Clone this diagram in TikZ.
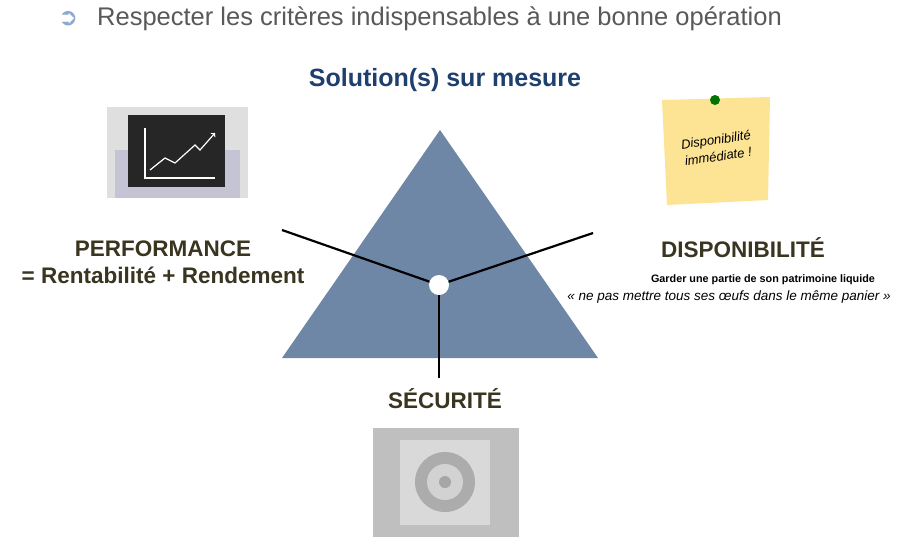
\documentclass[tikz,border=0pt]{standalone}
\usepackage{fontspec}
\setmainfont{Liberation Sans}
\newfontfamily\djv{DejaVu Sans}
\definecolor{tri}{HTML}{6F87A6}
\definecolor{ttl}{HTML}{1F3F6E}
\definecolor{olv}{HTML}{3A3520}
\definecolor{bul}{HTML}{8EA9CF}
\definecolor{gtx}{HTML}{595959}
\tikzset{x=1pt,y=-1pt,
 lbl/.style={font=\bfseries\fontsize{22.5}{27}\selectfont,text=olv,align=center},
 spoke/.style={line width=2.2pt,black}}
\begin{document}
\begin{tikzpicture}
\useasboundingbox (0,0) rectangle (900,550);
\fill[white] (0,0) rectangle (900,550);
\node[anchor=west,text=bul,font=\djv\fontsize{24}{26}\selectfont,inner sep=0pt] (b) at (58,19) {➲};
\node[anchor=west,text=gtx,font=\fontsize{25.5}{30}\selectfont,inner sep=0pt] (h) at (97,19) {Respecter les critères indispensables à une bonne opération};
\node[text=ttl,font=\bfseries\fontsize{25}{30}\selectfont] (t) at (445,80) {Solution(s) sur mesure};
\fill[tri] (440,130) -- (598,358) -- (282,358) -- cycle;
\coordinate (l) at (282,230);
\coordinate (r) at (593,233);
\coordinate (d) at (439,378);
\node[circle,fill=white,minimum size=20pt,inner sep=0pt] (c) at (439,285) {};
\draw[spoke] (l) -- (c);
\draw[spoke] (r) -- (c);
\draw[spoke] (d) -- (c);
\node[lbl] (p) at (163,262) {PERFORMANCE\\= Rentabilité + Rendement};
\node[lbl] (dd) at (743,248) {DISPONIBILITÉ};
\node[font=\bfseries\fontsize{10.8}{13}\selectfont] (g1) at (763,280) {Garder une partie de son patrimoine liquide};
\node[font=\itshape\fontsize{13.5}{16}\selectfont] (g2) at (729,297) {« ne pas mettre tous ses œufs dans le même panier »};
\node[lbl] (s) at (445,399) {SÉCURITÉ};
% picture: chart
\fill[gray!25] (107,107) rectangle (248,198);
\fill[blue!15!gray!40] (115,150) rectangle (240,198);
\fill[black!85] (128,115) rectangle (225,187);
\draw[white,line width=1.2pt] (145,128) -- (145,178) -- (215,178);
\draw[white,line width=1.2pt,->] (150,170) -- (165,158) -- (175,163) -- (195,145) -- (200,150) -- (215,133);
% post-it
\fill[yellow!55!orange!40] (662,100) -- (770,97) -- (768,200) -- (667,205) -- cycle;
\fill[green!45!black] (715,100) circle (5pt);
\node[rotate=8,font=\itshape\fontsize{13}{17}\selectfont,align=center] (pi) at (717,148) {Disponibilité\\immédiate !};
% vault
\fill[gray!50] (373,428) rectangle (519,537);
\fill[gray!30] (400,440) rectangle (490,525);
\fill[gray!65] (445,482) circle (30pt);
\fill[gray!35] (445,482) circle (18pt);
\fill[gray!70] (445,482) circle (6pt);
\end{tikzpicture}
\end{document}
